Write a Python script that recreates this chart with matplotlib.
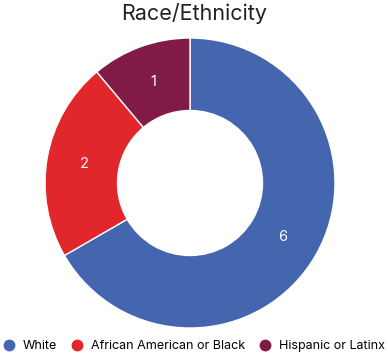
import matplotlib.pyplot as plt
from matplotlib.lines import Line2D

plt.rcParams['font.family'] = ['Inter', 'DejaVu Sans']

# datos
categorias = ["White", "African American or Black", "Hispanic or Latinx"]
valores = [6, 2, 1]
colores = ["#4366ae", "#e1262c", "#801b45"]

fig = plt.figure(figsize=(3.88, 3.56), dpi=100)
ax = fig.add_axes([45 / 388, 28 / 356, 290 / 388, 290 / 356])

wedges, textos = ax.pie(
    valores,
    colors=colores,
    startangle=90,
    counterclock=False,
    radius=1,
    labels=[str(v) for v in valores],
    labeldistance=0.74,
    wedgeprops=dict(width=0.5, edgecolor="white", linewidth=1),
    textprops=dict(color="white", fontsize=10.5),
)
for t in textos:
    t.set_horizontalalignment("center")
    t.set_verticalalignment("center")
ax.set_xlim(-1, 1)
ax.set_ylim(-1, 1)
ax.set_aspect("equal")

fig.text(0.5, 1 - 13 / 356, "Race/Ethnicity", ha="center", va="center",
         fontsize=15.5, color="#222222")

handles = [Line2D([0], [0], marker="o", linestyle="", markersize=7.5,
                  markerfacecolor=c, markeredgecolor=c) for c in colores]
fig.legend(handles, categorias, loc="center", bbox_to_anchor=(0.501, 1 - 346 / 356),
           ncol=3, frameon=False, fontsize=9, handletextpad=0.7,
           columnspacing=1.2, handlelength=0.8, borderaxespad=0, borderpad=0)

fig.savefig("out.png", dpi=100)
